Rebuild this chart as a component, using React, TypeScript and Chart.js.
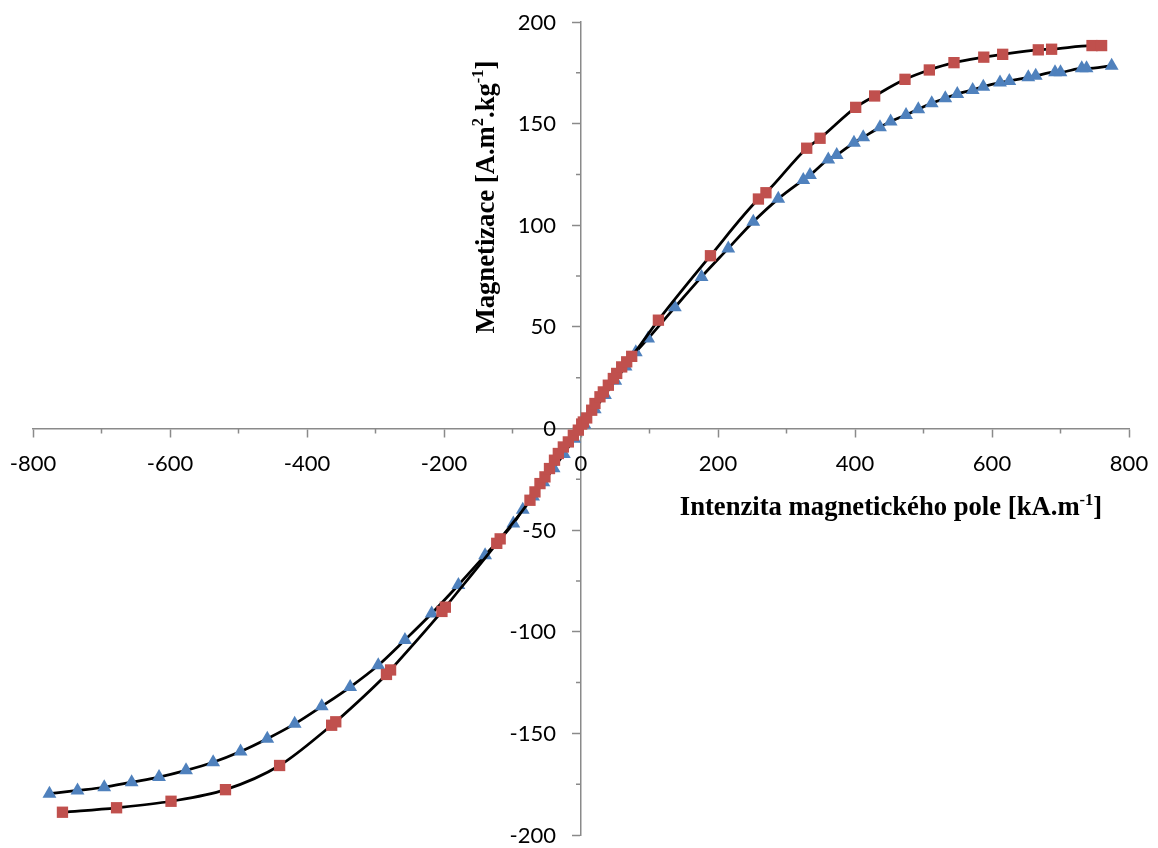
import React, { useEffect, useRef } from 'react';
import { Chart, registerables } from 'chart.js';

Chart.register(...registerables);

// Red squares (sample 1)
const redX = [-757, -678, -598.5, -519, -440, -364, -358, -284, -278, -203, -198, -123, -118, -74.5, -67.2, -59.9, -52.6, -46, -38.7, -33.1, -25.8, -18.5, -11.2, -3.9, 1, 3.4, 8.3, 15.6, 20.4, 27.7, 32.6, 39.9, 47.2, 52.1, 59.4, 66.7, 74, 113, 189, 259, 270, 329.5, 349, 401, 428.7, 473, 508.5, 544.5, 588, 615.6, 667.6, 687, 746, 760];
const redY = [-188.8, -186.6, -183.4, -177.7, -165.8, -146, -144.3, -121, -118.8, -90, -87.9, -56.5, -54.3, -35.3, -31.2, -27.1, -23.8, -19.7, -15.6, -12.3, -9.1, -6.6, -3.3, -0.8, 2.2, 3.2, 5.2, 9, 12.3, 15.6, 18, 21.3, 24.6, 27.1, 30.3, 32.8, 35.5, 53.3, 85, 112.9, 116, 137.9, 142.8, 158, 163.6, 171.8, 176.4, 180, 182.7, 184.1, 186.3, 186.6, 188.4, 188.4];

// Blue triangles (sample 2)
const blueX = [-776, -735, -696, -656, -616, -576.6, -537, -497, -458, -418, -378.5, -337, -296, -257, -218, -179, -140, -98.8, -85, -70, -55, -40, -25, -10, 5, 20, 35, 50, 65, 80, 98, 137, 176, 215, 251.5, 288, 324.5, 334.3, 361, 373.3, 398.5, 412, 436.5, 452, 474.5, 492.4, 512, 531.8, 549.3, 571.8, 587.3, 611.7, 625.3, 653, 663.8, 692, 700, 731, 738, 774.7];
const blueY = [-179.7, -178.1, -176.5, -174, -171.5, -168.2, -164.2, -158.9, -152.6, -145.3, -136.7, -127.2, -116.5, -104, -91, -77, -62.4, -46.8, -40, -33.5, -26.5, -19.5, -12.5, -5, 2, 9.5, 16.5, 23.5, 30.5, 37.5, 44.3, 59.6, 74.6, 88.6, 101.7, 113, 122.3, 124.7, 132.4, 134.6, 140.6, 143.3, 148.2, 151, 154.3, 157.1, 160, 162.5, 164.6, 166.6, 168.2, 170.2, 171, 172.8, 173.5, 175.3, 175.3, 177.2, 177.2, 178.5];

const xMin = -800, xMax = 800, xStep = 100, xLabelEvery = 200;
const yMin = -200, yMax = 200, yStep = 25, yLabelEvery = 50;

const xTitleRuns = [
  { t: 'Intenzita magnetického pole [kA.m', sup: false },
  { t: '-1', sup: true },
  { t: ']', sup: false },
];
const yTitleRuns = [
  { t: 'Magnetizace [A.m', sup: false },
  { t: '2', sup: true },
  { t: '.kg', sup: false },
  { t: '-1', sup: true },
  { t: ']', sup: false },
];

const AXIS_COLOR = '#8a8a8a';
const RED = '#C0504D';
const BLUE = '#4F81BD';
const TICK_FONT = '22px Lato, "Noto Sans", sans-serif';
const TITLE_SIZE = 26.67;

type Run = { t: string; sup: boolean };

function runFont(r: Run, size: number) {
  const s = r.sup ? size * 0.62 : size;
  return `bold ${s}px "Liberation Serif", "Times New Roman", serif`;
}

function runsWidth(ctx: CanvasRenderingContext2D, runs: Run[], size: number) {
  let w = 0;
  for (const r of runs) {
    ctx.font = runFont(r, size);
    w += ctx.measureText(r.t).width;
  }
  return w;
}

function drawRuns(ctx: CanvasRenderingContext2D, runs: Run[], x: number, y: number, size: number) {
  let cx = x;
  for (const r of runs) {
    ctx.font = runFont(r, size);
    ctx.fillText(r.t, cx, r.sup ? y - size * 0.38 : y);
    cx += ctx.measureText(r.t).width;
  }
}

const decorPlugin = {
  id: 'decor',
  afterDraw(chart: any) {
    const ctx: CanvasRenderingContext2D = chart.ctx;
    const xs = chart.scales.x;
    const ys = chart.scales.y;
    const x0 = xs.getPixelForValue(0);
    const y0 = ys.getPixelForValue(0);
    ctx.save();
    // minor ticks
    ctx.strokeStyle = AXIS_COLOR;
    ctx.lineWidth = 1.5;
    ctx.beginPath();
    for (const t of xs.ticks) {
      if (t.value % xLabelEvery === 0) continue;
      const px = xs.getPixelForValue(t.value);
      ctx.moveTo(px, y0);
      ctx.lineTo(px, y0 + 5);
    }
    for (const t of ys.ticks) {
      if (t.value % yLabelEvery === 0) continue;
      const py = ys.getPixelForValue(t.value);
      ctx.moveTo(x0, py);
      ctx.lineTo(x0 - 5, py);
    }
    ctx.stroke();

    // tick labels
    ctx.fillStyle = '#000';
    ctx.font = TICK_FONT;
    ctx.textBaseline = 'alphabetic';
    ctx.textAlign = 'center';
    for (const t of xs.ticks) {
      if (t.value % xLabelEvery !== 0) continue;
      ctx.fillText(String(t.value), xs.getPixelForValue(t.value), y0 + 42);
    }
    ctx.textAlign = 'right';
    for (const t of ys.ticks) {
      if (t.value % yLabelEvery !== 0) continue;
      ctx.fillText(String(t.value), x0 - 25, ys.getPixelForValue(t.value) + 7.5);
    }

    // axis titles
    ctx.textAlign = 'left';
    const wx = runsWidth(ctx, xTitleRuns, TITLE_SIZE);
    drawRuns(ctx, xTitleRuns, 891 - wx / 2, 515, TITLE_SIZE);

    const wy = runsWidth(ctx, yTitleRuns, TITLE_SIZE);
    ctx.translate(493.5, 197);
    ctx.rotate(-Math.PI / 2);
    drawRuns(ctx, yTitleRuns, -wy / 2, 0, TITLE_SIZE);
    ctx.restore();
  },
};

export default function App() {
  const ref = useRef<HTMLCanvasElement | null>(null);
  useEffect(() => {
    if (!ref.current) return;
    const common = {
      showLine: true,
      borderColor: '#000',
      borderWidth: 2.75,
      cubicInterpolationMode: 'monotone',
      pointRadius: 8,
      pointBorderWidth: 0,
    };
    const chart = new Chart(ref.current, {
      type: 'scatter',
      data: {
        datasets: [
          {
            ...common,
            label: 'red',
            data: redX.map((x, i) => ({ x, y: redY[i] })),
            pointStyle: 'rect',
            pointBackgroundColor: RED,
            pointBorderColor: RED,
            order: 0,
          },
          {
            ...common,
            label: 'blue',
            data: blueX.map((x, i) => ({ x, y: blueY[i] })),
            pointStyle: 'triangle',
            pointBackgroundColor: BLUE,
            pointBorderColor: BLUE,
            order: 1,
          },
        ],
      },
      options: {
        animation: false,
        responsive: false,
        maintainAspectRatio: false,
        layout: { padding: { left: 33, right: 29, top: 22, bottom: 13 } },
        plugins: { legend: { display: false }, tooltip: { enabled: false } },
        scales: {
          x: {
            type: 'linear',
            position: { y: 0 } as any,
            min: xMin,
            max: xMax,
            border: { display: true, color: AXIS_COLOR, width: 1.5 },
            grid: {
              drawOnChartArea: false,
              drawTicks: true,
              tickLength: 8,
              tickWidth: 1.5,
              tickColor: (c: any) => (c.tick && c.tick.value % xLabelEvery === 0 ? AXIS_COLOR : 'rgba(0,0,0,0)'),
            },
            ticks: { stepSize: xStep, autoSkip: false, display: false, padding: 0 },
          },
          y: {
            type: 'linear',
            position: { x: 0 } as any,
            min: yMin,
            max: yMax,
            border: { display: true, color: AXIS_COLOR, width: 1.5 },
            grid: {
              drawOnChartArea: false,
              drawTicks: true,
              tickLength: 8,
              tickWidth: 1.5,
              tickColor: (c: any) => (c.tick && c.tick.value % yLabelEvery === 0 ? AXIS_COLOR : 'rgba(0,0,0,0)'),
            },
            ticks: { stepSize: yStep, autoSkip: false, display: false, padding: 0 },
          },
        },
      },
      plugins: [decorPlugin],
    } as any);
    return () => chart.destroy();
  }, []);
  return (
    <div style={{ position: 'absolute', left: 0, top: 0, width: 1158, height: 848, background: '#fff' }}>
      <canvas ref={ref} width={1158} height={848} style={{ width: 1158, height: 848, display: 'block' }} />
    </div>
  );
}
